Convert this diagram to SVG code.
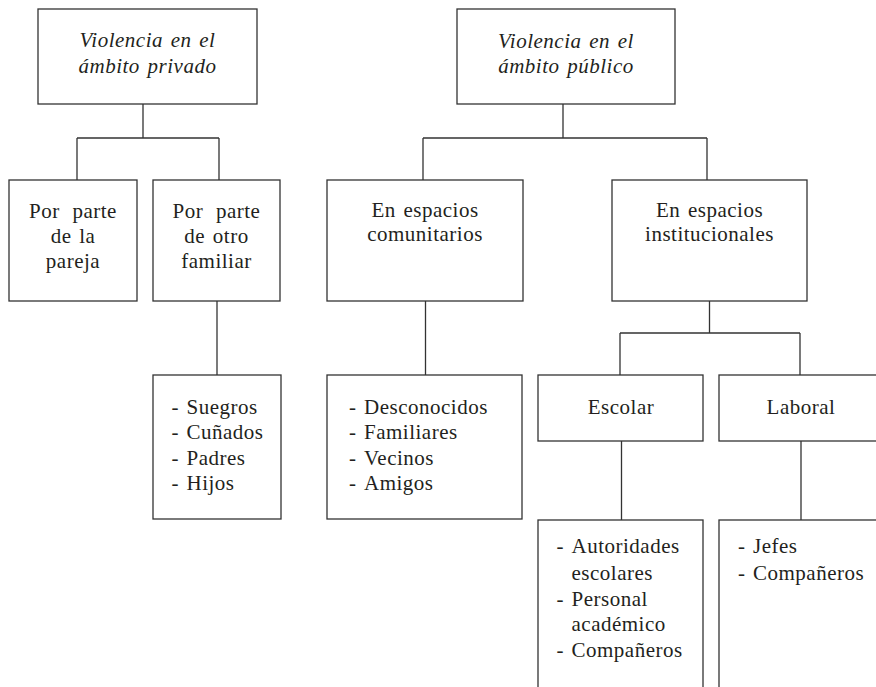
<svg xmlns="http://www.w3.org/2000/svg" width="876" height="687" viewBox="0 0 876 687">
<style>
.box{fill:#fff;stroke:#333;stroke-width:1.3}
.ln{fill:none;stroke:#333;stroke-width:1.3}
text{font-family:"Liberation Serif","Times New Roman",serif;font-size:21px;fill:#231f20;letter-spacing:0.5px;word-spacing:2px}
.c{text-anchor:middle}
.i{font-style:italic}
.w{word-spacing:7px}
</style>
<rect width="876" height="687" fill="#fff"/>
<g id="connectors">
<path class="ln" d="M143,104V138M77,138H219M77,138V180M219,138V180"/>
<path class="ln" d="M217,301V375"/>
<path class="ln" d="M563,104V138M423,138H707M423,138V180M707,138V180"/>
<path class="ln" d="M425.5,301V375"/>
<path class="ln" d="M709.5,301V333M620,333H800M620,333V375M800,333V375"/>
<path class="ln" d="M621.5,441V520M801,441V520"/>
</g>
<g id="privado">
<rect class="box" x="38" y="9" width="219" height="95"/>
<text class="c i" x="147.5" y="47">Violencia en el</text>
<text class="c i" x="147.5" y="73">ámbito privado</text>
</g>
<g id="pareja">
<rect class="box" x="9" y="180" width="128" height="121"/>
<text class="c w" x="73" y="218">Por parte</text>
<text class="c" x="73" y="243">de la</text>
<text class="c" x="73" y="268">pareja</text>
</g>
<g id="familiar">
<rect class="box" x="153" y="180" width="127" height="121"/>
<text class="c w" x="216.5" y="218">Por parte</text>
<text class="c" x="216.5" y="243">de otro</text>
<text class="c" x="216.5" y="268">familiar</text>
</g>
<g id="familiares-lista">
<rect class="box" x="153" y="375" width="128" height="144"/>
<text x="171.5" y="414">-</text><text x="186.5" y="414">Suegros</text>
<text x="171.5" y="439">-</text><text x="186.5" y="439">Cuñados</text>
<text x="171.5" y="464.5">-</text><text x="186.5" y="464.5">Padres</text>
<text x="171.5" y="490">-</text><text x="186.5" y="490">Hijos</text>
</g>
<g id="publico">
<rect class="box" x="457" y="9" width="218" height="95"/>
<text class="c i" x="566" y="48">Violencia en el</text>
<text class="c i" x="566" y="73">ámbito público</text>
</g>
<g id="comunitarios">
<rect class="box" x="327" y="180" width="196" height="121"/>
<text class="c" x="425" y="217">En espacios</text>
<text class="c" x="425" y="241">comunitarios</text>
</g>
<g id="comunitarios-lista">
<rect class="box" x="327" y="375" width="195" height="144"/>
<text x="349" y="414">-</text><text x="364" y="414">Desconocidos</text>
<text x="349" y="439">-</text><text x="364" y="439">Familiares</text>
<text x="349" y="464.5">-</text><text x="364" y="464.5">Vecinos</text>
<text x="349" y="490">-</text><text x="364" y="490">Amigos</text>
</g>
<g id="institucionales">
<rect class="box" x="612" y="180" width="195" height="121"/>
<text class="c" x="709.5" y="217">En espacios</text>
<text class="c" x="709.5" y="241">institucionales</text>
</g>
<g id="escolar">
<rect class="box" x="538" y="375" width="165" height="66"/>
<text class="c" x="621" y="414">Escolar</text>
</g>
<g id="laboral">
<rect class="box" x="719" y="375" width="170" height="66"/>
<text class="c" x="801" y="414">Laboral</text>
</g>
<g id="escolar-lista">
<rect class="box" x="538" y="520" width="165" height="180"/>
<text x="556.5" y="553">-</text><text x="571.5" y="553">Autoridades</text>
<text x="571.5" y="579.5">escolares</text>
<text x="556.5" y="605.5">-</text><text x="571.5" y="605.5">Personal</text>
<text x="571.5" y="631">académico</text>
<text x="556.5" y="656.5">-</text><text x="571.5" y="656.5">Compañeros</text>
</g>
<g id="laboral-lista">
<rect class="box" x="719" y="520" width="170" height="180"/>
<text x="738" y="553">-</text><text x="753" y="553">Jefes</text>
<text x="738" y="579.5">-</text><text x="753" y="579.5">Compañeros</text>
</g>
</svg>
